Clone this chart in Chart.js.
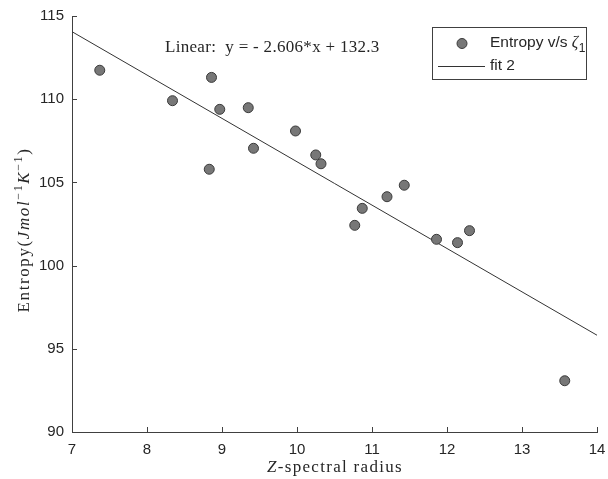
<!DOCTYPE html>
<html>
<head>
<meta charset="utf-8">
<script src="https://cdn.jsdelivr.net/npm/chart.js@4.4.0/dist/chart.umd.min.js"></script>
<style>
  html, body { margin: 0; padding: 0; background: #fff; }
</style>
</head>
<body>
<canvas id="chart" width="608" height="479"></canvas>
<script>
// spectral radius vs entropy
const radius = [7.37, 8.34, 8.86, 8.97, 8.83, 9.35, 9.42, 9.98, 10.25, 10.32, 10.77, 10.87, 11.20, 11.43, 11.86, 12.14, 12.30, 13.57];
const entropy = [111.74, 109.91, 111.31, 109.39, 105.79, 109.49, 107.05, 108.09, 106.65, 106.12, 102.42, 103.44, 104.14, 104.83, 101.58, 101.38, 102.10, 93.08];

// linear fit coefficients
const fitSlope = -2.606;
const fitIntercept = 132.3;
const fitRange = [7, 14];

const xTicks = [7, 8, 9, 10, 11, 12, 13, 14];
const yTicks = [90, 95, 100, 105, 110, 115];

const SANS = '"Liberation Sans", Arial, sans-serif';
const SERIF = '"Liberation Serif", "DejaVu Serif", serif';
const INK = '#262626';

const points = radius.map((x, i) => ({ x, y: entropy[i] }));
const fitLine = fitRange.map(x => ({ x, y: fitSlope * x + fitIntercept }));

// draws a run of differently styled pieces centred on cx
function drawRich(ctx, segs, cx, y, spacing) {
    ctx.letterSpacing = spacing + 'px';
    let w = 0;
    segs.forEach(s => { ctx.font = s.font; w += ctx.measureText(s.t).width; });
    let x = cx - w / 2;
    segs.forEach(s => {
        ctx.font = s.font;
        ctx.fillText(s.t, x, y + (s.dy || 0));
        x += ctx.measureText(s.t).width;
    });
    ctx.letterSpacing = '0px';
}

const decorations = {
    id: 'decorations',
    afterDraw(chart) {
        const { ctx, chartArea: a, scales: { x, y } } = chart;
        ctx.save();

        // inward tick marks
        ctx.strokeStyle = '#404040';
        ctx.lineWidth = 1;
        ctx.beginPath();
        xTicks.forEach(v => {
            const px = Math.round(x.getPixelForValue(v)) + 0.5;
            ctx.moveTo(px, a.bottom);
            ctx.lineTo(px, a.bottom - 5);
        });
        yTicks.forEach(v => {
            const py = Math.round(y.getPixelForValue(v)) + 0.5;
            ctx.moveTo(a.left, py);
            ctx.lineTo(a.left + 5, py);
        });
        ctx.stroke();

        ctx.fillStyle = INK;
        ctx.textBaseline = 'alphabetic';
        ctx.textAlign = 'left';

        // fit equation
        ctx.font = '17px ' + SERIF;
        ctx.letterSpacing = '0.3px';
        ctx.fillText('Linear:  y = - 2.606*x + 132.3', 165, 52);
        ctx.letterSpacing = '0px';

        // x axis title
        drawRich(ctx, [
            { t: 'Z', font: 'italic 17px ' + SERIF },
            { t: '-spectral radius', font: '17px ' + SERIF }
        ], 335, 472, 1.3);

        // y axis title
        ctx.save();
        ctx.translate(29, 230);
        ctx.rotate(-Math.PI / 2);
        drawRich(ctx, [
            { t: 'Entropy(', font: '17px ' + SERIF },
            { t: 'Jmol', font: 'italic 17px ' + SERIF },
            { t: '\u22121', font: '12px ' + SERIF, dy: -7 },
            { t: 'K', font: 'italic 17px ' + SERIF },
            { t: '\u22121', font: '12px ' + SERIF, dy: -7 },
            { t: ')', font: '17px ' + SERIF }
        ], 0, 0, 1.6);
        ctx.restore();

        // legend
        ctx.fillStyle = '#fff';
        ctx.fillRect(432.5, 27.5, 154, 52);
        ctx.strokeStyle = '#404040';
        ctx.strokeRect(432.5, 27.5, 154, 52);

        ctx.beginPath();
        ctx.arc(462, 43.5, 5, 0, Math.PI * 2);
        ctx.fillStyle = '#777';
        ctx.fill();
        ctx.strokeStyle = '#3a3a3a';
        ctx.stroke();

        ctx.fillStyle = INK;
        ctx.font = '15.5px ' + SANS;
        ctx.fillText('Entropy v/s ', 490, 47);
        const ew = ctx.measureText('Entropy v/s ').width;
        ctx.font = 'italic 16px ' + SERIF;
        ctx.fillText('\u03b6', 490 + ew, 47);
        ctx.font = '12px ' + SANS;
        ctx.fillText('1', 490 + ew + 7, 52);

        ctx.strokeStyle = '#333';
        ctx.beginPath();
        ctx.moveTo(438, 66.5);
        ctx.lineTo(485, 66.5);
        ctx.stroke();
        ctx.font = '15.5px ' + SANS;
        ctx.fillText('fit 2', 490, 70);

        ctx.restore();
    }
};

new Chart(document.getElementById('chart').getContext('2d'), {
    type: 'scatter',
    data: {
        datasets: [
            {
                label: 'Entropy v/s \u03b61',
                data: points,
                backgroundColor: '#777',
                borderColor: '#3a3a3a',
                borderWidth: 1,
                pointRadius: 5,
                order: 1
            },
            {
                label: 'fit 2',
                data: fitLine,
                showLine: true,
                borderColor: '#333',
                borderWidth: 1,
                pointRadius: 0,
                order: 2
            }
        ]
    },
    options: {
        responsive: false,
        animation: false,
        layout: { padding: { top: 16, right: 11, left: 0, bottom: 0 } },
        plugins: {
            legend: { display: false },
            tooltip: { enabled: false }
        },
        scales: {
            x: {
                type: 'linear',
                min: 7,
                max: 14,
                afterFit: s => { s.height = 47; s.paddingLeft = 0; s.paddingRight = 0; },
                afterBuildTicks: s => { s.ticks = xTicks.map(v => ({ value: v })); },
                grid: { drawOnChartArea: false, drawTicks: false },
                border: { display: true, color: '#404040', width: 1 },
                ticks: { color: INK, font: { family: SANS, size: 15 }, padding: 9, maxRotation: 0 }
            },
            y: {
                type: 'linear',
                min: 90,
                max: 115,
                afterFit: s => { s.width = 72; s.paddingTop = 0; s.paddingBottom = 0; },
                afterBuildTicks: s => { s.ticks = yTicks.map(v => ({ value: v })); },
                grid: { drawOnChartArea: false, drawTicks: false },
                border: { display: true, color: '#404040', width: 1 },
                ticks: { color: INK, font: { family: SANS, size: 15 }, padding: 8 }
            }
        }
    },
    plugins: [decorations]
});
</script>
</body>
</html>
